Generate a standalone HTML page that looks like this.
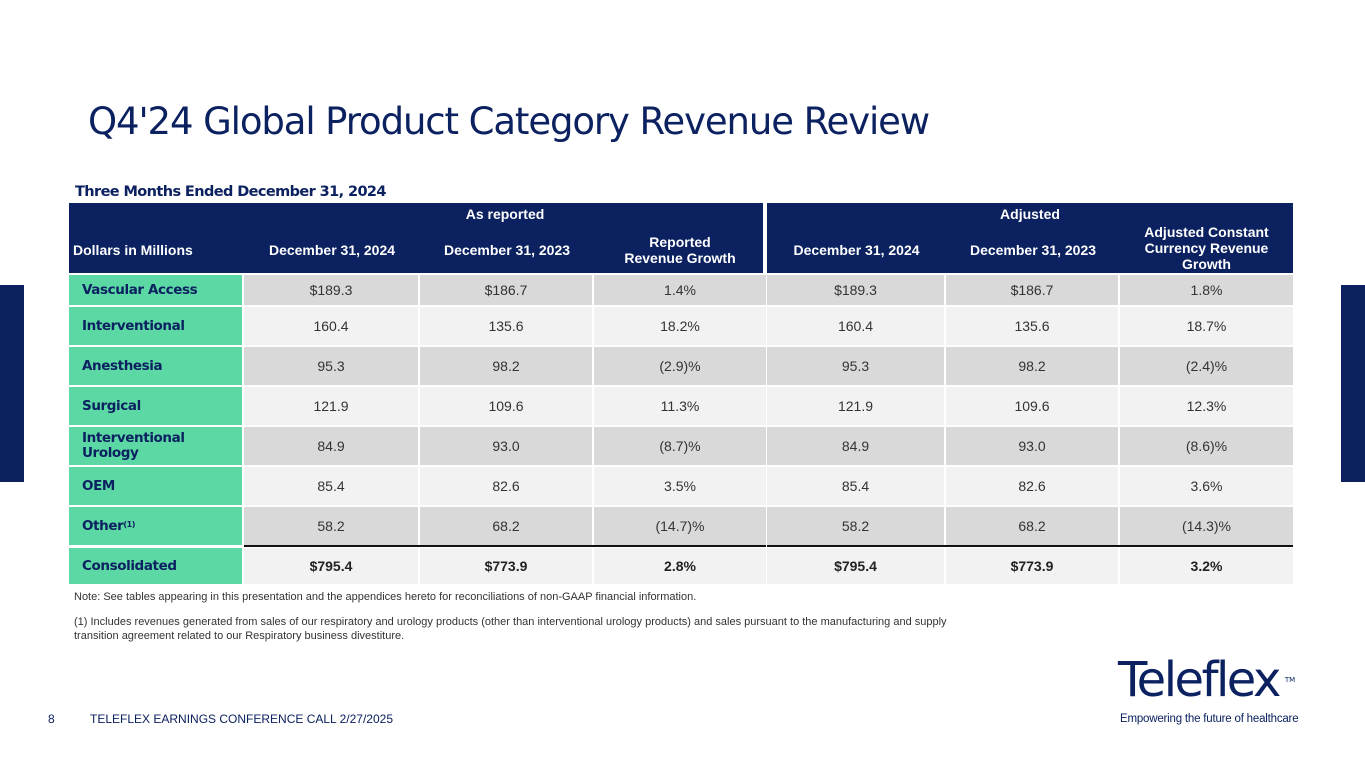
<!DOCTYPE html>
<html><head><meta charset="utf-8">
<style>
body{margin:0;width:1365px;height:768px;position:relative;background:#fff;overflow:hidden;font-family:"Liberation Sans",Arial,sans-serif}
.a{position:absolute}
.c{position:absolute;display:flex;align-items:center;justify-content:center;text-align:center;font-size:14px;color:#333;box-sizing:border-box}
.h{color:#fff;font-weight:bold;font-size:14px;line-height:16px}
.l{justify-content:flex-start;padding-left:13px;color:#0b2160;font-weight:bold;font-family:"DejaVu Sans","Liberation Sans",sans-serif;font-size:13.5px;letter-spacing:-0.4px;text-align:left;line-height:15px;background:#5bd8a4}
.b{font-weight:bold;color:#222}
</style></head><body>
<div class="a" style="left:0;top:285px;width:24px;height:197px;background:#0b2160"></div>
<div class="a" style="left:1341px;top:285px;width:24px;height:197px;background:#0b2160"></div>
<div class="a" style="left:88px;top:100px;font-size:37px;color:#0b2160;font-family:'DejaVu Sans',sans-serif;letter-spacing:-1.1px;white-space:nowrap">Q4'24 Global Product Category Revenue Review</div>
<div class="a" style="left:75px;top:184px;font-size:14.5px;font-weight:bold;color:#0b2160;font-family:'DejaVu Sans',sans-serif;letter-spacing:-0.6px">Three Months Ended December 31, 2024</div>

<div class="a" style="left:69px;top:203px;width:694px;height:70px;background:#0b2160"></div>
<div class="a" style="left:767px;top:203px;width:526px;height:70px;background:#0b2160"></div>
<div class="c h" style="left:244px;top:203px;width:522px;height:22px">As reported</div>
<div class="c h" style="left:767px;top:203px;width:526px;height:22px">Adjusted</div>
<div class="c h" style="left:69px;top:226px;width:175px;height:47px;justify-content:flex-start;padding-left:4px">Dollars in Millions</div>
<div class="c h" style="left:244px;top:226px;width:176px;height:47px">December 31, 2024</div>
<div class="c h" style="left:420px;top:226px;width:174px;height:47px">December 31, 2023</div>
<div class="c h" style="left:594px;top:226px;width:172px;height:47px">Reported<br>Revenue Growth</div>
<div class="c h" style="left:767px;top:226px;width:179px;height:47px">December 31, 2024</div>
<div class="c h" style="left:946px;top:226px;width:174px;height:47px">December 31, 2023</div>
<div class="c h" style="left:1120px;top:222px;width:173px;height:51px">Adjusted Constant<br>Currency Revenue<br>Growth</div>

<div id="rows"></div>
<div class="a" style="left:244px;top:545px;width:522px;height:2px;background:#111"></div>
<div class="a" style="left:767px;top:545px;width:526px;height:2px;background:#111"></div>

<div class="a" style="left:74px;top:591px;font-size:11px;color:#333">Note: See tables appearing in this presentation and the appendices hereto for reconciliations of non-GAAP financial information.</div>
<div class="a" style="left:74px;top:615px;font-size:11px;color:#333;line-height:14px;width:915px">(1) Includes revenues generated from sales of our respiratory and urology products (other than interventional urology products) and sales pursuant to the manufacturing and supply transition agreement related to our Respiratory business divestiture.</div>
<div class="a" style="left:48px;top:712px;font-size:12px;color:#0b2160">8</div>
<div class="a" style="left:90px;top:712px;font-size:12px;color:#0b2160">TELEFLEX EARNINGS CONFERENCE CALL 2/27/2025</div>
<div class="a" style="left:1118px;top:654px;font-size:48px;color:#0b2160;font-family:'DejaVu Sans',sans-serif;letter-spacing:-2.5px;line-height:52px">Teleflex<span style="font-size:7px;vertical-align:top;letter-spacing:0;margin-left:6px">TM</span></div>
<div class="a" style="left:1120px;top:713px;font-size:11.5px;color:#0b2160;letter-spacing:-0.2px">Empowering the future of healthcare</div>

<script>
const categories=["Vascular Access","Interventional","Anesthesia","Surgical","Interventional<br>Urology","OEM","Other<sup style='font-size:8px;position:relative;top:-2px'>(1)</sup>","Consolidated"];
const rep2024=["$189.3","160.4","95.3","121.9","84.9","85.4","58.2","$795.4"];
const rep2023=["$186.7","135.6","98.2","109.6","93.0","82.6","68.2","$773.9"];
const repGrowth=["1.4%","18.2%","(2.9)%","11.3%","(8.7)%","3.5%","(14.7)%","2.8%"];
const adj2024=["$189.3","160.4","95.3","121.9","84.9","85.4","58.2","$795.4"];
const adj2023=["$186.7","135.6","98.2","109.6","93.0","82.6","68.2","$773.9"];
const adjGrowth=["1.8%","18.7%","(2.4)%","12.3%","(8.6)%","3.6%","(14.3)%","3.2%"];
const tops=[275,307,347,387,427,467,507,548], hs=[30,38,38,38,38,38,38,36];
const xs=[69,244,420,594,767,946,1120], ws=[173,174,172,172,177,172,173];
const root=document.getElementById('rows');
categories.forEach((cat,i)=>{
  const vals=[cat,rep2024[i],rep2023[i],repGrowth[i],adj2024[i],adj2023[i],adjGrowth[i]];
  const bg=(i%2==0)?'#d9d9d9':'#f2f2f2';
  vals.forEach((v,j)=>{
    const d=document.createElement('div');
    d.className='c'+(j==0?' l':'')+(i==7&&j>0?' b':'');
    d.style.left=xs[j]+'px';d.style.top=tops[i]+'px';d.style.width=ws[j]+'px';d.style.height=hs[i]+'px';
    if(j>0)d.style.background=(i==7)?'#f2f2f2':bg;
    d.innerHTML=v;
    
    
    root.appendChild(d);
  });
});
</script>
</body></html>
